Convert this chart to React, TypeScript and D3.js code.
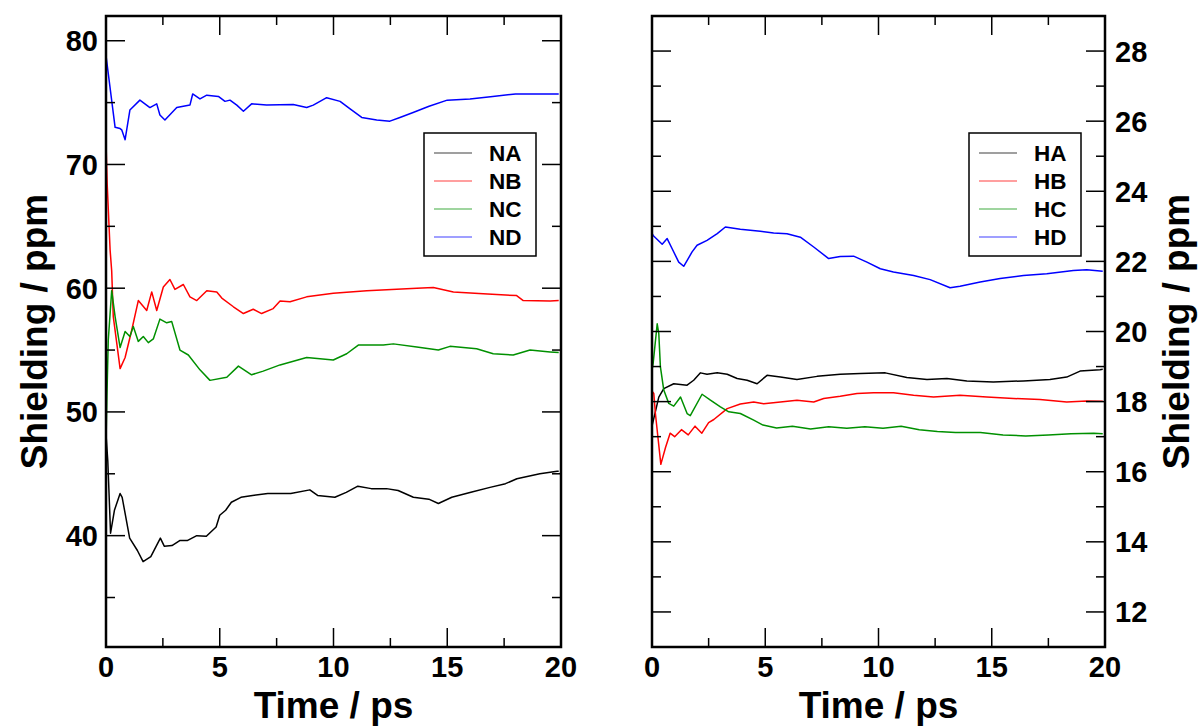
import React, { useEffect, useRef } from "react";
import * as d3 from "d3";

// [time / ps, shielding / ppm]
const NA = [[0,48.2],[0.08,46],[0.2,40.2],[0.37,42.05],[0.62,43.4],[0.71,43.1],[1.04,39.8],[1.38,38.8],[1.63,37.9],[1.97,38.3],[2.39,39.8],[2.56,39.15],[2.9,39.2],[3.24,39.6],[3.57,39.6],[3.99,40.0],[4.41,39.95],[4.84,40.7],[5.0,41.65],[5.26,42.05],[5.51,42.7],[5.93,43.1],[6.44,43.25],[7.11,43.4],[8.12,43.4],[8.96,43.7],[9.3,43.25],[10.06,43.1],[10.56,43.5],[11.07,44.0],[11.66,43.8],[12.33,43.8],[12.84,43.65],[13.51,43.1],[14.19,42.95],[14.61,42.6],[15.2,43.1],[16.04,43.5],[16.88,43.9],[17.56,44.2],[18.06,44.6],[19.07,45.0],[19.83,45.2],[19.9,45.2]];
const NB = [[0,71.8],[0.05,68.5],[0.18,63.1],[0.25,61.4],[0.32,57.7],[0.62,53.5],[0.84,54.4],[1.13,56.6],[1.42,59.0],[1.79,58.2],[2.01,59.7],[2.23,58.2],[2.52,60.1],[2.81,60.7],[3.03,59.9],[3.4,60.3],[3.69,59.3],[3.99,59.0],[4.43,59.8],[4.87,59.7],[5.09,59.2],[5.6,58.5],[6.04,57.95],[6.47,58.3],[6.84,57.95],[7.35,58.35],[7.65,58.96],[8.09,58.9],[8.82,59.3],[9.99,59.6],[11.46,59.8],[13.66,60.0],[14.39,60.05],[15.27,59.7],[16.58,59.55],[18.05,59.4],[18.34,59.0],[19.52,58.96],[19.9,59.0]];
const NC = [[0,47.5],[0.04,51.2],[0.1,55.8],[0.25,59.8],[0.4,57.7],[0.62,55.2],[0.84,56.5],[1.05,56.1],[1.2,56.9],[1.42,55.7],[1.64,56.1],[1.86,55.6],[2.08,55.9],[2.37,57.5],[2.67,57.2],[2.89,57.3],[3.25,55.0],[3.62,54.6],[4.13,53.4],[4.57,52.55],[5.31,52.8],[5.82,53.7],[6.4,53.0],[6.91,53.3],[7.65,53.8],[8.82,54.4],[9.99,54.2],[10.58,54.7],[11.09,55.4],[12.19,55.4],[12.63,55.5],[13.66,55.25],[14.61,55.0],[15.12,55.3],[16.29,55.1],[17.02,54.7],[17.9,54.6],[18.64,55.0],[19.52,54.85],[19.9,54.8]];
const ND = [[0,78.8],[0.4,73.0],[0.62,72.9],[0.69,72.8],[0.84,72.0],[1.05,74.4],[1.49,75.2],[1.93,74.6],[2.23,74.9],[2.37,74.0],[2.59,73.6],[3.11,74.6],[3.69,74.8],[3.81,75.7],[4.13,75.3],[4.43,75.6],[4.94,75.5],[5.23,75.1],[5.45,75.2],[5.75,74.8],[6.04,74.3],[6.4,74.9],[7.06,74.8],[8.23,74.85],[8.82,74.6],[9.11,74.8],[9.7,75.4],[10.29,75.1],[10.73,74.5],[11.24,73.8],[11.9,73.6],[12.48,73.5],[12.92,73.8],[13.5,74.2],[14.2,74.7],[15,75.2],[16,75.3],[17,75.5],[18,75.7],[19,75.7],[19.9,75.7]];

const HA = [[0,17.3],[0.08,17.52],[0.3,18.13],[0.52,18.37],[0.96,18.51],[1.55,18.47],[1.84,18.61],[2.14,18.82],[2.43,18.78],[2.88,18.82],[3.32,18.78],[3.76,18.66],[4.2,18.61],[4.64,18.51],[5.08,18.75],[5.67,18.7],[6.4,18.63],[7.29,18.72],[8.31,18.78],[9.2,18.8],[10.3,18.82],[11.25,18.69],[12.14,18.63],[13.02,18.66],[13.9,18.59],[15.07,18.56],[16.4,18.59],[17.57,18.63],[18.31,18.7],[18.9,18.87],[19.78,18.91],[19.9,18.92]];
const HB = [[0,18.3],[0.08,18.23],[0.15,17.66],[0.39,16.21],[0.6,16.7],[0.8,17.1],[1.0,17.0],[1.3,17.2],[1.6,17.05],[1.9,17.3],[2.2,17.1],[2.5,17.4],[2.73,17.49],[3.32,17.8],[3.9,17.93],[4.49,17.99],[4.93,17.94],[5.67,17.99],[6.4,18.04],[7.14,17.99],[7.58,18.09],[8.31,18.15],[9.05,18.23],[9.78,18.25],[10.66,18.25],[11.55,18.18],[12.43,18.13],[13.6,18.18],[14.78,18.13],[15.96,18.09],[17.13,18.06],[18.31,17.99],[19.19,18.02],[19.9,18.01]];
const HC = [[0,18.9],[0.05,19.09],[0.23,20.22],[0.3,19.94],[0.37,19.0],[0.52,18.33],[0.74,17.95],[0.96,17.87],[1.26,18.13],[1.55,17.66],[1.69,17.6],[2.21,18.21],[2.58,18.04],[3.02,17.85],[3.39,17.71],[3.9,17.66],[4.49,17.47],[4.9,17.33],[5.5,17.25],[6.2,17.3],[7,17.22],[7.8,17.28],[8.6,17.24],[9.4,17.28],[10.2,17.24],[11,17.3],[11.8,17.2],[12.6,17.15],[13.4,17.12],[14.5,17.12],[15.5,17.05],[16.5,17.02],[17.5,17.05],[18.5,17.08],[19.5,17.1],[19.9,17.08]];
const HD = [[0,22.8],[0.05,22.74],[0.45,22.49],[0.67,22.65],[0.89,22.36],[1.18,21.98],[1.4,21.86],[1.77,22.27],[1.99,22.46],[2.43,22.6],[2.88,22.79],[3.24,22.98],[3.9,22.92],[4.78,22.86],[5.37,22.81],[5.96,22.79],[6.55,22.69],[7.14,22.41],[7.8,22.08],[8.31,22.14],[8.9,22.15],[9.49,21.98],[10.08,21.79],[10.66,21.7],[11.55,21.6],[12.28,21.48],[13.16,21.25],[13.6,21.29],[14.49,21.41],[15.37,21.51],[16.4,21.6],[17.43,21.65],[18.6,21.74],[19.19,21.76],[19.9,21.72]];

const nLabels = ["NA", "NB", "NC", "ND"];
const hLabels = ["HA", "HB", "HC", "HD"];
const colors = ["#000000", "#ff0000", "#009000", "#0000ff"];
const xTicks = [0, 5, 10, 15, 20];
const xMinor = [2.5, 7.5, 12.5, 17.5];
const nTicks = [40, 50, 60, 70, 80];
const nMinor = [35, 45, 55, 65, 75];
const hTicks = [12, 14, 16, 18, 20, 22, 24, 26, 28];
const hMinor = [13, 15, 17, 19, 21, 23, 25, 27];

const FONT = "'Liberation Sans', Arial, Helvetica, sans-serif";

function drawPanel(svg, opt) {
  const { left, right, top, bottom, yDomain, series, labels, yTicks, yMinor, labelSide, legendX, titleX } = opt;
  const x = d3.scaleLinear().domain([0, 20]).range([left, right]);
  const y = d3.scaleLinear().domain(yDomain).range([bottom, top]);
  const g = svg.append("g");

  // data lines
  const line = d3.line().x(d => x(d[0])).y(d => y(d[1]));
  series.forEach((s, i) => {
    g.append("path")
      .attr("d", line(s))
      .attr("fill", "none")
      .attr("stroke", colors[i])
      .attr("stroke-width", 1.5)
      .attr("stroke-linejoin", "round");
  });

  // ticks on all four sides, pointing in
  const tk = g.append("g").attr("stroke", "#000").attr("stroke-width", 1.5);
  const major = 19, minor = 9;
  xTicks.concat(xMinor).forEach(t => {
    const len = xTicks.includes(t) ? major : minor;
    tk.append("line").attr("x1", x(t)).attr("x2", x(t)).attr("y1", bottom).attr("y2", bottom - len);
    tk.append("line").attr("x1", x(t)).attr("x2", x(t)).attr("y1", top).attr("y2", top + len);
  });
  yTicks.concat(yMinor).forEach(t => {
    const len = yTicks.includes(t) ? major : minor;
    tk.append("line").attr("y1", y(t)).attr("y2", y(t)).attr("x1", left).attr("x2", left + len);
    tk.append("line").attr("y1", y(t)).attr("y2", y(t)).attr("x1", right).attr("x2", right - len);
  });

  // frame
  g.append("rect")
    .attr("x", left).attr("y", top)
    .attr("width", right - left).attr("height", bottom - top)
    .attr("fill", "none").attr("stroke", "#000").attr("stroke-width", 2.5);

  // x tick labels
  g.selectAll(".xl").data(xTicks).enter().append("text")
    .attr("x", d => x(d)).attr("y", bottom + 30)
    .attr("text-anchor", "middle")
    .attr("font-family", FONT).attr("font-weight", "bold").attr("font-size", 29)
    .text(d => d);

  // y tick labels
  g.selectAll(".yl").data(yTicks).enter().append("text")
    .attr("x", labelSide === "left" ? left - 8 : right + 10)
    .attr("y", d => y(d) + 10.5)
    .attr("text-anchor", labelSide === "left" ? "end" : "start")
    .attr("font-family", FONT).attr("font-weight", "bold").attr("font-size", 29)
    .text(d => d);

  // axis titles
  g.append("text")
    .attr("x", (left + right) / 2).attr("y", bottom + 71)
    .attr("text-anchor", "middle")
    .attr("font-family", FONT).attr("font-weight", "bold").attr("font-size", 37)
    .text("Time / ps");
  g.append("text")
    .attr("transform", "translate(" + titleX + "," + (top + bottom) / 2 + ") rotate(-90)")
    .attr("text-anchor", "middle")
    .attr("font-family", FONT).attr("font-weight", "bold").attr("font-size", 37)
    .text("Shielding / ppm");

  // legend
  const lg = g.append("g").attr("transform", "translate(" + legendX + ",133)");
  lg.append("rect").attr("x", 0).attr("y", 0).attr("width", 112).attr("height", 123)
    .attr("fill", "#fff").attr("stroke", "#000").attr("stroke-width", 1.5);
  labels.forEach((name, i) => {
    const cy = 20 + i * 28;
    lg.append("line").attr("x1", 10).attr("x2", 48).attr("y1", cy).attr("y2", cy)
      .attr("stroke", colors[i]).attr("stroke-width", 1.2).attr("opacity", 0.75);
    lg.append("text").attr("x", 65).attr("y", cy + 8)
      .attr("font-family", FONT).attr("font-weight", "bold").attr("font-size", 22.5)
      .text(name);
  });
}

export default function App() {
  const ref = useRef(null);

  useEffect(() => {
    const svg = d3.select(ref.current);
    svg.selectAll("*").remove();

    drawPanel(svg, {
      left: 106, right: 561, top: 16, bottom: 647,
      yDomain: [31, 82], series: [NA, NB, NC, ND], labels: nLabels,
      yTicks: nTicks, yMinor: nMinor, labelSide: "left", legendX: 424, titleX: 47
    });
    drawPanel(svg, {
      left: 652, right: 1105, top: 16, bottom: 647,
      yDomain: [11, 29], series: [HA, HB, HC, HD], labels: hLabels,
      yTicks: hTicks, yMinor: hMinor, labelSide: "right", legendX: 969, titleX: 1189
    });
  }, []);

  return (
    <svg ref={ref} width={1202} height={727}
      style={{ position: "absolute", left: 0, top: 0, background: "#fff" }} />
  );
}
